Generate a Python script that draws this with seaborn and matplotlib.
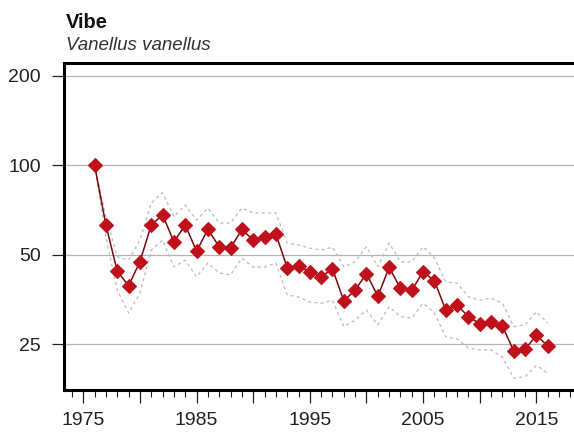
import numpy as np
import pandas as pd
import matplotlib
matplotlib.use("Agg")
import matplotlib.pyplot as plt
import seaborn as sns
from matplotlib.ticker import FixedLocator, NullLocator, NullFormatter

# ---- data ----
years = list(range(1976, 2017))
index_values = [100.0, 62.9, 44.0, 39.3, 47.3, 62.9, 68.1, 55.3, 62.9, 51.4,
                60.8, 53.2, 52.7, 60.8, 56.0, 57.3, 58.7, 45.2, 45.8, 43.8,
                42.1, 44.8, 34.9, 38.0, 43.2, 36.2, 45.3, 38.5, 38.0, 43.8,
                40.8, 32.5, 33.8, 30.9, 29.3, 29.6, 28.7, 23.7, 24.0, 26.8,
                24.6]
upper_ci = [100.0, 67.1, 49.2, 47.9, 56.0, 74.6, 80.8, 67.1, 73.5, 65.4,
            71.8, 63.9, 63.9, 71.8, 69.1, 69.1, 69.1, 54.7, 53.9, 52.6,
            51.8, 53.0, 45.5, 47.3, 53.2, 45.5, 54.7, 47.3, 47.3, 53.2,
            48.7, 40.5, 40.1, 36.1, 35.1, 35.7, 34.3, 28.6, 29.0, 32.1,
            29.4]
lower_ci = [100.0, 57.4, 38.0, 31.8, 37.1, 51.8, 56.0, 45.5, 47.9, 42.1,
            46.9, 43.4, 42.7, 48.7, 45.4, 45.4, 46.9, 36.6, 36.0, 34.6,
            34.3, 35.1, 28.6, 30.1, 32.5, 29.0, 33.4, 30.9, 30.6, 34.3,
            31.8, 26.4, 26.0, 24.2, 23.9, 23.9, 22.6, 19.2, 19.4, 21.2,
            19.9]
y_ticks = [25, 50, 100, 200]
y_tick_labels = ["25", "50", "100", "200"]
x_major_ticks = [1975, 1980, 1985, 1990, 1995, 2000, 2005, 2010, 2015]
x_major_labels = ["1975", "", "1985", "", "1995", "", "2005", "", "2015"]
title = "Vibe"
subtitle = "Vanellus vanellus"

df = pd.DataFrame({"year": years, "index": index_values,
                   "upper": upper_ci, "lower": lower_ci})

sns.set_theme(style="white")
plt.rcParams["font.family"] = ["Liberation Sans", "DejaVu Sans"]

W, H = 574, 433
fig = plt.figure(figsize=(W / 100, H / 100), dpi=100)
ax = fig.add_axes([64 / W, (H - 390) / H, 516.6 / W, (390 - 63.3) / H])

ax.set_yscale("log")
ax.set_xlim(1973.3, 2018.9)
ax.set_ylim(17.5, 220.6)

# gridlines
for yv in y_ticks:
    ax.axhline(yv, color="#b4b4b4", lw=0.9, zorder=0)

ci_kw = dict(color="#bcbcbc", lw=0.9, dashes=(2.5, 2.5), legend=False)
sns.lineplot(data=df, x="year", y="upper", ax=ax, **ci_kw)
sns.lineplot(data=df, x="year", y="lower", ax=ax, **ci_kw)
sns.lineplot(data=df, x="year", y="index", ax=ax, color="#7a0a0a", lw=1.1,
             marker="D", markersize=7, markerfacecolor="#c0101c",
             markeredgecolor="#c0101c", markeredgewidth=0.8, zorder=5)

# axes styling
for side in ["top", "bottom", "left"]:
    ax.spines[side].set_visible(True)
    ax.spines[side].set_color("black")
    ax.spines[side].set_linewidth(2.2)
ax.spines["right"].set_visible(False)

ax.yaxis.set_major_locator(FixedLocator(y_ticks))
ax.set_yticklabels(y_tick_labels)
ax.yaxis.set_minor_locator(NullLocator())
ax.yaxis.set_minor_formatter(NullFormatter())
ax.xaxis.set_major_locator(FixedLocator(x_major_ticks))
ax.set_xticklabels(x_major_labels)
ax.xaxis.set_minor_locator(FixedLocator(list(range(1974, 2019))))

ax.tick_params(axis="y", which="major", direction="out", length=9, width=0.9,
               pad=7.5, labelsize=14, colors="#222222", left=True)
ax.tick_params(axis="x", which="major", direction="out", length=9.5, width=0.9,
               pad=6, labelsize=14, colors="#222222", bottom=True)
ax.tick_params(axis="x", which="minor", direction="out", length=5, width=0.8,
               color="#222222", bottom=True)
ax.set_xlabel("")
ax.set_ylabel("")

fig.text(66 / W, 1 - 28 / H, title, fontsize=14.5, fontweight="bold",
         color="#111111", va="baseline", ha="left")
fig.text(66 / W, 1 - 50 / H, subtitle, fontsize=13.5, fontstyle="italic",
         color="#333333", va="baseline", ha="left")

fig.savefig("out.png", dpi=100)
